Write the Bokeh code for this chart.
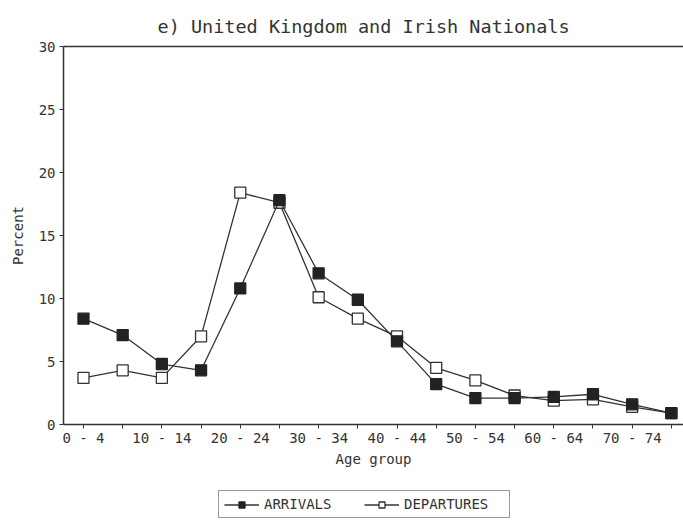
from bokeh.plotting import figure
from bokeh.layouts import column
from bokeh.models import Range1d, FixedTicker, LinearAxis, Legend, LegendItem, ColumnDataSource
from bokeh.embed import file_html
from bokeh.resources import INLINE

age_groups = ["0 - 4", "5 - 9", "10 - 14", "15 - 19", "20 - 24", "25 - 29", "30 - 34",
              "35 - 39", "40 - 44", "45 - 49", "50 - 54", "55 - 59", "60 - 64",
              "65 - 69", "70 - 74", "75+"]
arrivals = [8.4, 7.1, 4.8, 4.3, 10.8, 17.8, 12.0, 9.9, 6.6, 3.2, 2.1, 2.1, 2.2, 2.4, 1.6, 0.9]
departures = [3.7, 4.3, 3.7, 7.0, 18.4, 17.6, 10.1, 8.4, 7.0, 4.5, 3.5, 2.3, 1.9, 2.0, 1.4, 0.9]
y_ticks = [0, 5, 10, 15, 20, 25, 30]
series_names = ["ARRIVALS", "DEPARTURES"]

FONT = "DejaVu Sans Mono"
INK = "#333333"

x = list(range(len(age_groups)))
src = ColumnDataSource(dict(x=x, arr=arrivals, dep=departures))

p = figure(frame_width=620, frame_height=378, output_backend="svg", toolbar_location=None,
           x_range=Range1d(-0.51, 15.31), y_range=Range1d(0, 30),
           min_border_left=63, min_border_right=0, min_border_top=46, min_border_bottom=50,
           title="e) United Kingdom and Irish Nationals")
p.title.text_font = FONT
p.title.text_font_size = "18.5px"
p.title.text_font_style = "normal"
p.title.text_color = INK
p.title.align = "left"
p.title.offset = 94
p.title.standoff = 19
p.outline_line_color = None
p.grid.visible = False
p.background_fill_color = "white"

# axes
xa = p.xaxis[0]
xa.ticker = FixedTicker(ticks=x)
xa.major_label_overrides = {i: (lab if i % 2 == 0 and i < 15 else "") for i, lab in enumerate(age_groups)}
xa.minor_tick_line_color = None
xa.axis_label = "Age group"
ya = p.yaxis[0]
ya.ticker = FixedTicker(ticks=y_ticks)
ya.minor_tick_line_color = None
ya.axis_label = "Percent"
for ax in (xa, ya):
    ax.axis_line_color = INK
    ax.axis_line_width = 1.5
    ax.major_tick_line_color = INK
    ax.major_tick_out = 4
    ax.major_tick_in = 0
    ax.major_label_text_font = FONT
    ax.major_label_text_font_size = "14px"
    ax.major_label_text_color = INK
    ax.axis_label_text_font = FONT
    ax.axis_label_text_font_size = "14px"
    ax.axis_label_text_font_style = "normal"
    ax.axis_label_text_color = INK
xa.axis_label_standoff = 2
xa.major_label_standoff = 1
ya.major_label_standoff = 4
ya.axis_label_standoff = 10

top = LinearAxis(ticker=FixedTicker(ticks=[]), axis_line_color=INK, axis_line_width=1.5,
                 major_label_text_font_size="0px", major_tick_line_color=None,
                 minor_tick_line_color=None)
p.add_layout(top, "above")

def draw(fig, source, key, filled):
    ln = fig.line("x", key, source=source, line_color=INK, line_width=1.3)
    sc = fig.scatter("x", key, source=source, marker="square", size=11,
                     fill_color="#222222" if filled else "white",
                     line_color="#222222" if filled else INK, line_width=1.3)
    return ln, sc

ld, sd = draw(p, src, "dep", False)
la, sa = draw(p, src, "arr", True)

# legend strip below the chart
lf = figure(frame_width=620, frame_height=52, output_backend="svg", toolbar_location=None,
            x_range=Range1d(0, 1), y_range=Range1d(0, 1),
            min_border_left=63, min_border_right=0, min_border_top=0, min_border_bottom=0)
lf.axis.visible = False
lf.grid.visible = False
lf.outline_line_color = None
offscreen = ColumnDataSource(dict(x=[-5, -4], arr=[-5, -5], dep=[-5, -5]))
lla, lsa = draw(lf, offscreen, "arr", True)
lld, lsd = draw(lf, offscreen, "dep", False)

legend = Legend(items=[LegendItem(label=series_names[0], renderers=[lla, lsa]),
                       LegendItem(label=series_names[1], renderers=[lld, lsd])],
                orientation="horizontal", location=(155, 8))
legend.label_text_font = FONT
legend.label_text_font_size = "14px"
legend.label_text_color = INK
legend.border_line_color = INK
legend.border_line_width = 1.2
legend.glyph_width = 35
legend.glyph_height = 15
legend.label_height = 15
legend.label_width = 100
legend.label_standoff = 5
legend.spacing = 0
legend.padding = 5
legend.margin = 0
lf.add_layout(legend, "center")

open("out.html", "w").write(file_html(column(p, lf, spacing=0), INLINE))
